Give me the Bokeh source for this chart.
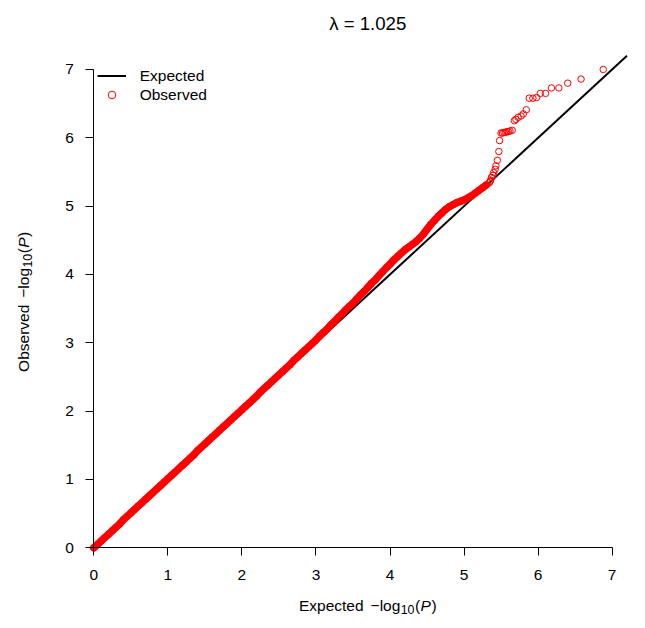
from bokeh.plotting import figure
from bokeh.models import (Range1d, Legend, LegendItem, Label,
                          ColumnDataSource, SingleIntervalTicker)
from bokeh.embed import file_html
from bokeh.resources import INLINE

TITLE_TEXT = "λ = 1.025"

# Bulk of the association scan: expected vs observed -log10(P) along the band
body_expected = [
    0.00, 0.05, 0.10, 0.15, 0.20, 0.25, 0.30, 0.35, 0.40, 0.45,
    0.50, 0.55, 0.60, 0.65, 0.70, 0.75, 0.80, 0.85, 0.90, 0.95,
    1.00, 1.05, 1.10, 1.15, 1.20, 1.25, 1.30, 1.35, 1.40, 1.45,
    1.50, 1.55, 1.60, 1.65, 1.70, 1.75, 1.80, 1.85, 1.90, 1.95,
    2.00, 2.05, 2.10, 2.15, 2.20, 2.25, 2.30, 2.35, 2.40, 2.45,
    2.50, 2.55, 2.60, 2.65, 2.70, 2.75, 2.80, 2.85, 2.90, 2.95,
    3.00, 3.05, 3.10, 3.15, 3.20, 3.25, 3.30, 3.35, 3.40, 3.45,
    3.50, 3.55, 3.60, 3.65, 3.70, 3.75, 3.80, 3.85, 3.90, 3.95,
    4.00, 4.05, 4.10, 4.15, 4.20, 4.25, 4.30, 4.35, 4.40, 4.45,
    4.50, 4.55, 4.60, 4.65, 4.70, 4.75, 4.80, 4.85, 4.90, 4.95,
    5.00, 5.05, 5.10, 5.15, 5.20, 5.25, 5.30,
]
body_observed = [
    0.00, 0.05, 0.10, 0.15, 0.20, 0.25, 0.30, 0.35, 0.41, 0.46,
    0.51, 0.56, 0.61, 0.66, 0.71, 0.76, 0.81, 0.86, 0.91, 0.96,
    1.01, 1.06, 1.11, 1.16, 1.21, 1.26, 1.31, 1.36, 1.42, 1.47,
    1.52, 1.57, 1.62, 1.67, 1.72, 1.77, 1.82, 1.87, 1.92, 1.97,
    2.02, 2.07, 2.12, 2.17, 2.22, 2.28, 2.33, 2.38, 2.43, 2.48,
    2.53, 2.58, 2.63, 2.68, 2.74, 2.79, 2.84, 2.89, 2.94, 2.99,
    3.04, 3.10, 3.15, 3.20, 3.26, 3.31, 3.37, 3.42, 3.48, 3.53,
    3.58, 3.64, 3.70, 3.75, 3.81, 3.87, 3.92, 3.98, 4.04, 4.10,
    4.15, 4.21, 4.26, 4.31, 4.36, 4.40, 4.44, 4.48, 4.53, 4.59,
    4.66, 4.73, 4.79, 4.85, 4.90, 4.95, 4.99, 5.02, 5.05, 5.07,
    5.09, 5.12, 5.15, 5.19, 5.23, 5.27, 5.31,
]

# Strongest signals, one circle each (rank 35 down to rank 1)
tail_expected = [
    5.34, 5.35, 5.36, 5.37, 5.39, 5.40, 5.42, 5.43, 5.45, 5.47,
    5.48, 5.50, 5.52, 5.54, 5.56, 5.58, 5.60, 5.62, 5.65, 5.68,
    5.70, 5.73, 5.77, 5.80, 5.84, 5.88, 5.93, 5.98, 6.03, 6.10,
    6.18, 6.28, 6.40, 6.58, 6.88,
]
tail_observed = [
    5.34, 5.36, 5.38, 5.42, 5.45, 5.49, 5.54, 5.59, 5.67, 5.80,
    5.96, 6.07, 6.07, 6.08, 6.08, 6.09, 6.09, 6.10, 6.11, 6.25,
    6.27, 6.30, 6.32, 6.35, 6.41, 6.58, 6.58, 6.59, 6.65, 6.65,
    6.73, 6.73, 6.80, 6.86, 7.00,
]

axis_ticks = [0, 1, 2, 3, 4, 5, 6, 7]
X_MAX = 7.4   # right edge of the plotting region
Y_MAX = 7.2   # top edge of the plotting region

FONT = "Liberation Sans"
BASE = 15.5
W, H = 645, 628

# Page layout (pixels): where the data origin sits and the data scale
ORIGIN_X, ORIGIN_Y = 93.3, 547.3
PX_PER_X, PX_PER_Y = 74.05, 68.33

expected_all = body_expected + tail_expected
observed_all = body_observed + tail_observed

# The frame spans the whole page; axes are pinned at x=0 / y=0.
p = figure(width=W, height=H,
           x_range=Range1d(-ORIGIN_X / PX_PER_X, (W - ORIGIN_X) / PX_PER_X),
           y_range=Range1d(-(H - ORIGIN_Y) / PX_PER_Y, ORIGIN_Y / PX_PER_Y),
           output_backend="svg", toolbar_location=None,
           min_border=0, min_border_left=0, min_border_right=0,
           min_border_top=0, min_border_bottom=0)
p.outline_line_color = None
p.xgrid.visible = False
p.ygrid.visible = False
p.background_fill_color = "white"
p.border_fill_color = "white"

for ax in (p.xaxis[0], p.yaxis[0]):
    ax.fixed_location = 0
    ax.ticker = SingleIntervalTicker(interval=1)
    ax.bounds = (axis_ticks[0], axis_ticks[-1])
    ax.major_tick_out = 8
    ax.major_tick_in = 0
    ax.minor_tick_out = 0
    ax.minor_tick_in = 0
    ax.axis_line_color = "black"
    ax.major_tick_line_color = "black"
    ax.major_label_text_font = FONT
    ax.major_label_text_font_size = f"{BASE}px"
    ax.major_label_text_color = "black"
p.xaxis.major_label_standoff = 14
p.yaxis.major_label_standoff = 12

# y = x reference line across the plotting region
diag = p.segment(x0=[0], y0=[0], x1=[Y_MAX], y1=[Y_MAX],
                 line_color="black", line_width=2)

# dense bulk of the scan: overplotted circles merge into a solid band
p.line(body_expected, body_observed, line_color="red", line_width=7.5,
       line_cap="round", line_join="round")

src = ColumnDataSource(dict(x=expected_all, y=observed_all))
pts = p.scatter("x", "y", source=src, marker="circle", size=6.5,
                fill_color=None, line_color="red", line_width=1)

legend = Legend(items=[LegendItem(label="Expected", renderers=[diag]),
                       LegendItem(label="Observed", renderers=[pts])],
                location=(96.7, H - 104.0), padding=0, margin=0, spacing=0,
                glyph_width=29, glyph_height=19, label_height=19,
                label_standoff=14, border_line_color=None,
                background_fill_alpha=0,
                label_text_font=FONT, label_text_font_size=f"{BASE}px",
                label_text_color="black")
p.add_layout(legend)

plot_center_x = ORIGIN_X + X_MAX * PX_PER_X / 2
plot_center_y = ORIGIN_Y - Y_MAX * PX_PER_Y / 2

# title
p.add_layout(Label(x=plot_center_x, y=H - 22.7, x_units="screen", y_units="screen",
                   text=TITLE_TEXT, text_align="center", text_baseline="alphabetic",
                   text_font=FONT, text_font_size=f"{BASE * 1.2:.1f}px",
                   text_color="black"))

# composite axis titles: "<name> −log10(P)" with subscript and italic P
SUB = BASE * 0.8
def axis_title_pieces(name, name_w):
    pieces = []
    pos = 0.0
    pieces.append((name, pos, BASE, "normal", 0.0))
    pos += name_w + 7.0
    pieces.append(("−log", pos, BASE, "normal", 0.0))
    pos += 29.7 + 0.4
    pieces.append(("10", pos, SUB, "normal", -3.5))
    pos += 13.8 + 0.6
    pieces.append(("(", pos, BASE, "normal", 0.0))
    pos += 5.5
    pieces.append(("P", pos, BASE, "italic", 0.0))
    pos += 10.8
    pieces.append((")", pos, BASE, "normal", 0.0))
    pos += 5.2
    return pieces, pos

xp, xw = axis_title_pieces("Expected", 64.6)
for text, off, size, style, shift in xp:
    p.add_layout(Label(x=plot_center_x - xw / 2 + off, y=H - 605.0 + shift,
                       x_units="screen", y_units="screen",
                       text=text, text_align="left", text_baseline="alphabetic",
                       text_font=FONT, text_font_size=f"{size:.1f}px",
                       text_font_style=style, text_color="black"))

yp, yw = axis_title_pieces("Observed", 67.2)
for text, off, size, style, shift in yp:
    p.add_layout(Label(x=23.0 - shift, y=H - plot_center_y - yw / 2 + off,
                       x_units="screen", y_units="screen",
                       angle=1.5707963267948966,
                       text=text, text_align="left", text_baseline="alphabetic",
                       text_font=FONT, text_font_size=f"{size:.1f}px",
                       text_font_style=style, text_color="black"))

open("out.html", "w").write(file_html(p, INLINE))
